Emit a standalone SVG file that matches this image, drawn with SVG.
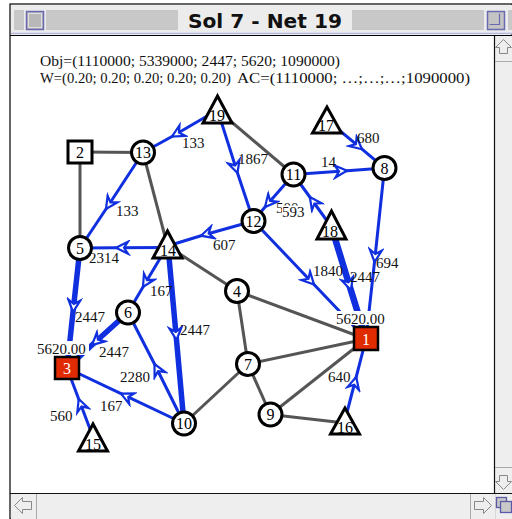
<svg xmlns="http://www.w3.org/2000/svg" width="512" height="519" viewBox="0 0 512 519">
<defs>
<style>
.g{stroke:#555;stroke-width:3;fill:none}
.b{stroke:#1030e0;stroke-width:3;fill:none;marker-mid:url(#ah)}
.bt{stroke:#1030e0;stroke-width:5.5;fill:none;marker-mid:url(#ah)}
.lbl{font-family:"Liberation Serif","Times New Roman",serif;font-size:15px;fill:#111}
.nd{fill:#fff;stroke:#000;stroke-width:3}
.nt{font-family:"Liberation Serif","Times New Roman",serif;font-size:16px;fill:#000;text-anchor:middle}
.stripe{stroke:#a4a4a4;stroke-width:1}
.sarrow{fill:none;stroke:#888;stroke-width:1}
</style>
<marker id="ah" markerUnits="userSpaceOnUse" markerWidth="18" markerHeight="16" viewBox="-15 -8 18 16" refX="0" refY="0" orient="auto">
<path d="M-12,-6 L0,0 L-12,6 L-8,0 Z" fill="#fff" stroke="#1030e0" stroke-width="2.2" stroke-linejoin="miter"/>
</marker>
</defs>

<!-- window chrome -->
<rect x="0" y="0" width="512" height="519" fill="#fff"/>
<rect x="10" y="4" width="502" height="515" fill="#fff" stroke="#000" stroke-width="1.2"/>
<rect x="11" y="5" width="501" height="29" fill="#ececec"/>
<g class="stripe">
<path d="M14 11H24M46 11H178M352 11H484M508 11H512"/>
<path d="M14 13H24M46 13H178M352 13H484M508 13H512"/>
<path d="M14 15H24M46 15H178M352 15H484M508 15H512"/>
<path d="M14 17H24M46 17H178M352 17H484M508 17H512"/>
<path d="M14 19H24M46 19H178M352 19H484M508 19H512"/>
<path d="M14 21H24M46 21H178M352 21H484M508 21H512"/>
<path d="M14 23H24M46 23H178M352 23H484M508 23H512"/>
<path d="M14 25H24M46 25H178M352 25H484M508 25H512"/>
<path d="M14 27H24M46 27H178M352 27H484M508 27H512"/>
<path d="M14 29H24M46 29H178M352 29H484M508 29H512"/>
</g>
<rect x="26.5" y="11.5" width="17" height="18" fill="#b8b8b8" stroke="#6a6ab0" stroke-width="1.5"/>
<rect x="28.5" y="13.5" width="13" height="14" fill="none" stroke="#e0e0e0" stroke-width="1"/>
<rect x="487.5" y="11.5" width="17" height="18" fill="#c4c4c4" stroke="#6a6ab0" stroke-width="1.5"/>
<path d="M489.5 24.5H499.5V13.5" fill="none" stroke="#6a6ab0" stroke-width="1.2"/>
<line x1="11" y1="33.5" x2="512" y2="33.5" stroke="#b4b4dc" stroke-width="1.5"/>
<line x1="10" y1="35.5" x2="512" y2="35.5" stroke="#000" stroke-width="1.2"/>
<text x="265" y="28" text-anchor="middle" font-family="'DejaVu Sans',sans-serif" font-weight="bold" font-size="19" textLength="154" lengthAdjust="spacingAndGlyphs" fill="#111">Sol 7 - Net 19</text>

<!-- scrollbars -->
<rect x="494.5" y="36" width="18" height="483" fill="#eeeeee"/>
<line x1="494.5" y1="36" x2="494.5" y2="519" stroke="#111" stroke-width="1.2"/>
<rect x="11" y="493.5" width="484" height="26" fill="#eeeeee"/>
<line x1="10" y1="493.5" x2="512" y2="493.5" stroke="#111" stroke-width="1.2"/>
<line x1="495" y1="61.5" x2="512" y2="61.5" stroke="#aaa"/>
<line x1="495" y1="467.5" x2="512" y2="467.5" stroke="#aaa"/>
<line x1="36.5" y1="494" x2="36.5" y2="519" stroke="#aaa"/>
<line x1="470.5" y1="494" x2="470.5" y2="519" stroke="#aaa"/>
<polygon class="sarrow" points="503.5,39.5 511.5,47.5 507.5,47.5 507.5,53.5 499.5,53.5 499.5,47.5 495.5,47.5"/>
<polygon class="sarrow" points="503.5,489.5 511.5,481.5 507.5,481.5 507.5,475.5 499.5,475.5 499.5,481.5 495.5,481.5"/>
<polygon class="sarrow" points="14.5,505.5 22.5,497.5 22.5,501.5 31.5,501.5 31.5,509.5 22.5,509.5 22.5,513.5"/>
<polygon class="sarrow" points="491.5,505.5 483.5,497.5 483.5,501.5 474.5,501.5 474.5,509.5 483.5,509.5 483.5,513.5"/>
<rect x="496.5" y="497.5" width="10" height="10" fill="#c8c8c8" stroke="#5a5aa8" stroke-width="1.3"/>
<rect x="500.5" y="501.5" width="11" height="11" fill="#c8c8c8" stroke="#5a5aa8" stroke-width="1.3"/>

<!-- header -->
<text class="lbl" x="40" y="66" textLength="300" lengthAdjust="spacingAndGlyphs">Obj=(1110000; 5339000; 2447; 5620; 1090000)</text>
<text class="lbl" x="40" y="83" textLength="191" lengthAdjust="spacingAndGlyphs">W=(0.20; 0.20; 0.20; 0.20; 0.20)</text>
<text class="lbl" x="237" y="83" textLength="233" lengthAdjust="spacingAndGlyphs">AC=(1110000; …;…;…;1090000)</text>

<!-- connectors -->
<g id="connectors">
<path class="g" d="M80,152 L143,152.5"/>
<path class="g" d="M80,152 L80,248"/>
<path class="g" d="M143,152.5 L167.5,246"/>
<path class="g" d="M217.5,110 L293.5,174.5"/>
<path class="g" d="M167.5,246 L237,291"/>
<path class="g" d="M237,291 L366,339"/>
<path class="g" d="M237,291 L248,364"/>
<path class="g" d="M248,364 L366,339"/>
<path class="g" d="M248,364 L184,423.5"/>
<path class="g" d="M248,364 L270.5,414.5"/>
<path class="g" d="M270.5,414.5 L366,339"/>
<path class="g" d="M270.5,414.5 L345,423"/>

<path class="b" d="M217.5,110 L172,136.5 L143,152.5"/>
<path class="b" d="M217.5,110 L237.5,173 L253.5,221"/>
<path class="b" d="M143,152.5 L106,209 L80,248"/>
<path class="b" d="M253.5,221 L201,235.7 L167.5,246"/>
<path class="b" d="M167.5,247.5 L116,247.8 L80,248"/>
<path class="b" d="M167.5,246 L143,287 L128,312.5"/>
<path class="bt" d="M168,246 L176.5,340 L184,423.5"/>
<path class="b" d="M253.5,221 L314,284.5 L366,339"/>
<path class="b" d="M293.5,174.5 L265,207 L253.5,221"/>
<path class="b" d="M331.5,227 L309.8,197 L293.5,174.5"/>
<path class="bt" d="M331.5,227 L350.8,290 L366,339" style="stroke-width:6.5"/>
<path class="b" d="M293.5,174.5 L347,170.7 L384.5,168"/>
<path class="b" d="M327,120 L362,149.2 L384.5,168"/>
<path class="b" d="M384.5,168 L374.5,262 L366,339"/>
<path class="b" d="M345,420 L356.2,377 L366,339"/>
<path class="bt" d="M80,248 L73,312 L67,368"/>
<path class="bt" d="M128,312.5 L92,345 L67,368"/>
<path class="b" d="M184,423.5 L154.5,364 L128,312.5"/>
<path class="b" d="M184,423.5 L121,393.6 L67,368"/>
<path class="b" d="M93,437 L78.7,399 L67,368"/>
</g>

<!-- edge labels -->
<g id="edge-labels">
<text class="lbl" x="182" y="148">133</text>
<text class="lbl" x="238" y="164">1867</text>
<text class="lbl" x="116" y="216">133</text>
<text class="lbl" x="213" y="250">607</text>
<text class="lbl" x="89" y="263">2314</text>
<text class="lbl" x="321" y="167">14</text>
<text class="lbl" x="357" y="143">680</text>
<text class="lbl" x="376" y="268">694</text>
<text class="lbl" x="313" y="276">1840</text>
<text class="lbl" x="350" y="282">2447</text>
<text class="lbl" x="276" y="213">500</text>
<rect x="282" y="205.5" width="26" height="13" fill="#fff"/>
<text class="lbl" x="282" y="217">593</text>
<rect x="336" y="311" width="52" height="14" fill="#fff"/>
<text class="lbl" x="336" y="324">5620.00</text>
<text class="lbl" x="328" y="382">640</text>
<text class="lbl" x="150" y="296">167</text>
<text class="lbl" x="180" y="335">2447</text>
<text class="lbl" x="75" y="322">2447</text>
<rect x="37" y="341" width="52" height="14" fill="#fff"/>
<text class="lbl" x="37" y="354">5620.00</text>
<text class="lbl" x="99" y="357">2447</text>
<text class="lbl" x="120" y="382">2280</text>
<text class="lbl" x="100" y="411">167</text>
<text class="lbl" x="50" y="421">560</text>
</g>

<!-- nodes -->
<g id="n1"><rect x="354" y="327" width="24" height="23" fill="#e02a00" stroke="#000" stroke-width="2.5"/><text class="nt" x="366" y="345" style="fill:#fff">1</text></g>
<g id="n2"><rect x="68" y="141" width="24" height="22" class="nd" stroke-width="2.5"/><text class="nt" x="80" y="158">2</text></g>
<g id="n3"><rect x="55" y="357" width="24" height="22" fill="#e02a00" stroke="#000" stroke-width="2.5"/><text class="nt" x="67" y="374" style="fill:#fff">3</text></g>
<g id="n4"><circle class="nd" cx="237" cy="291" r="11.5"/><text class="nt" x="237" y="296.5">4</text></g>
<g id="n5"><circle class="nd" cx="80" cy="248" r="11.5"/><text class="nt" x="80" y="253.5">5</text></g>
<g id="n6"><circle class="nd" cx="128" cy="312.5" r="11.5"/><text class="nt" x="128" y="318">6</text></g>
<g id="n7"><circle class="nd" cx="248" cy="364" r="11.5"/><text class="nt" x="248" y="369.5">7</text></g>
<g id="n8"><circle class="nd" cx="384.5" cy="168" r="11.5"/><text class="nt" x="384.5" y="173.5">8</text></g>
<g id="n9"><circle class="nd" cx="270.5" cy="414.5" r="11.5"/><text class="nt" x="270.5" y="420">9</text></g>
<g id="n10"><circle class="nd" cx="184" cy="423.5" r="11.5"/><text class="nt" x="184" y="429">10</text></g>
<g id="n11"><circle class="nd" cx="293.5" cy="174.5" r="11.5"/><text class="nt" x="293.5" y="180">11</text></g>
<g id="n12"><circle class="nd" cx="253.5" cy="221" r="11.5"/><text class="nt" x="253.5" y="226.5">12</text></g>
<g id="n13"><circle class="nd" cx="143" cy="152.5" r="11.5"/><text class="nt" x="143" y="158">13</text></g>
<g id="n14"><polygon class="nd" points="167.5,231 153,258 182,258"/><text class="nt" x="168" y="256">14</text></g>
<g id="n15"><polygon class="nd" points="93,424 78.5,451 107.5,451"/><text class="nt" x="93" y="450">15</text></g>
<g id="n16"><polygon class="nd" points="345,408 330.5,434 359.5,434"/><text class="nt" x="345" y="433">16</text></g>
<g id="n17"><polygon class="nd" points="327,107 312.5,133 341.5,133"/><text class="nt" x="326" y="131">17</text></g>
<g id="n18"><polygon class="nd" points="331.5,211 317,239 346,239"/><text class="nt" x="330" y="237">18</text></g>
<g id="n19"><polygon class="nd" points="217.5,96 203,123 232,123"/><text class="nt" x="217" y="121">19</text></g>
</svg>
